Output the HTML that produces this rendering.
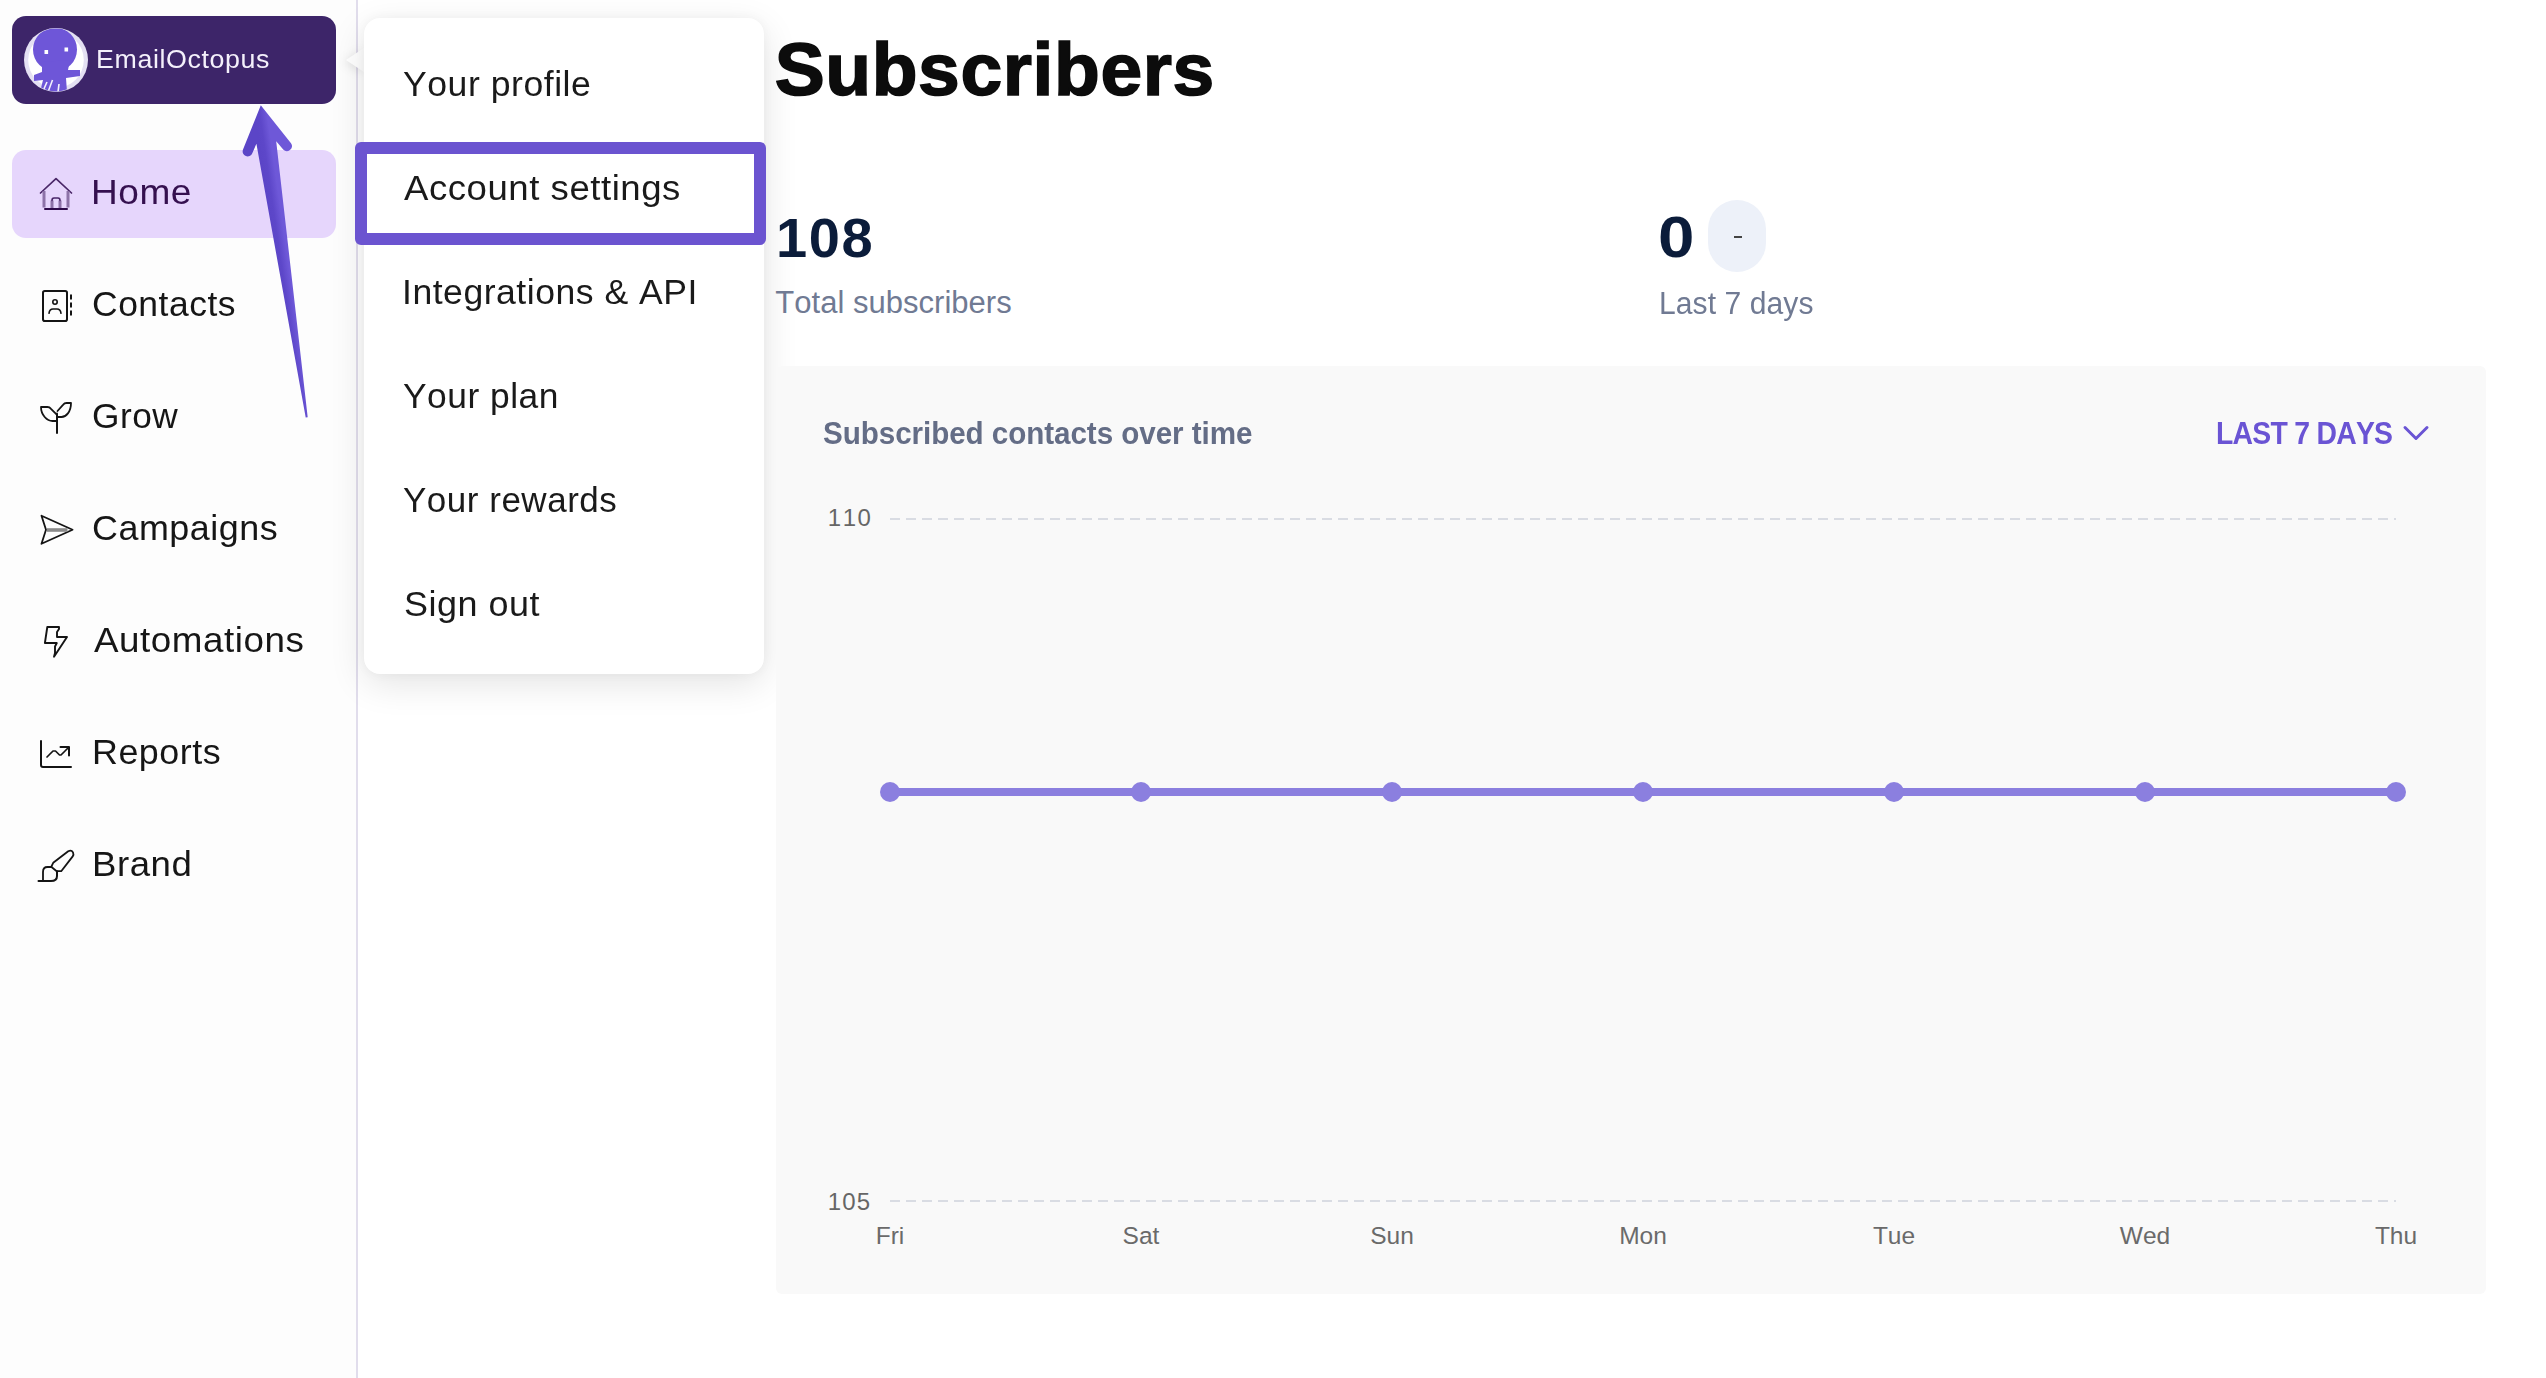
<!DOCTYPE html>
<html lang="en"><head><meta charset="utf-8"><title>EmailOctopus - Dashboard</title>
<style>
html,body{margin:0;padding:0;}
body{width:2546px;height:1378px;overflow:hidden;background:#fff;font-family:"Liberation Sans",sans-serif;}
#root{position:relative;width:2546px;height:1378px;overflow:hidden;background:#fff;}
.t{position:absolute;white-space:nowrap;display:block;font-kerning:none;transform-origin:0 0;}
svg{position:absolute;left:0;top:0;}
#sidebar{position:absolute;left:0;top:0;width:356px;height:1378px;background:#fdfdfd;}
#divider{position:absolute;left:356px;top:0;width:2px;height:1378px;background:#e1ddec;}
#brandbtn{position:absolute;left:12px;top:16px;width:324px;height:88px;border-radius:14px;background:#3d2569;}
#homebtn{position:absolute;left:12px;top:150px;width:324px;height:88px;border-radius:14px;background:#e6d6fc;}
#dd{position:absolute;left:364px;top:18px;width:400px;height:656px;border-radius:16px;background:#fff;box-shadow:0 10px 36px rgba(0,0,0,0.11),0 0 12px rgba(0,0,0,0.04);}
#ddcaret{position:absolute;left:346px;top:47.500px;width:0;height:0;border-top:12.500px solid transparent;border-bottom:12.500px solid transparent;border-right:18px solid #fff;filter:drop-shadow(-2px 2px 5px rgba(0,0,0,0.10));}
#hl{position:absolute;left:355px;top:142px;width:387px;height:79px;border:12px solid #6b54d0;border-radius:6px;}
#pill{position:absolute;left:1708px;top:200px;width:58px;height:72px;border-radius:29px;background:#edf1f9;}
#dash{position:absolute;left:1734px;top:236px;width:8px;height:2px;background:#444;}
#card{position:absolute;left:776px;top:366px;width:1710px;height:928px;border-radius:6px;background:#f9f9f9;}

</style></head>
<body>
<div id="root">
<aside>
<div id="sidebar"></div>
<div id="divider"></div>
<div id="brandbtn"></div>
<svg id="octo" width="100" height="110" viewBox="0 0 100 110">
<defs><clipPath id="oc"><circle cx="56" cy="60" r="31.500"/></clipPath></defs>
<circle cx="56" cy="60" r="32" fill="#e4e0f3"/>
<circle cx="56" cy="60" r="27.800" fill="#fff"/>
<g clip-path="url(#oc)" fill="#6e56d8">
<ellipse cx="55" cy="49.500" rx="22" ry="22"/>
<path d="M42 62 L42 72 L34 75 L34 81 L43 80 L40 92 L67 92 L66 78 L80 76 L80 70 L68 70 L70 60 Z"/>
</g>
<g clip-path="url(#oc)" stroke="#f4f2fb" stroke-width="1.600" fill="none">
<path d="M47 82 L43 91"/><path d="M52.500 80 L48 92"/><path d="M59 84 L58 92"/>
</g>
<rect x="44.500" y="50" width="3.600" height="4" fill="#fff"/>
<rect x="64.500" y="47.500" width="3.600" height="4" fill="#fff"/>
</svg>

<span class="t" style="left:96.10px;top:45.99px;font-size:26px;line-height:26px;color:#f4f0fb;letter-spacing:0.597px;transform:scaleX(1.03);">EmailOctopus</span>
<nav>
<div id="homebtn"></div>
<span class="t" style="left:91.26px;top:174.79px;font-size:34.5px;line-height:34.5px;color:#35104f;letter-spacing:0.500px;transform:scaleX(1.0733);">Home</span>
<span class="t" style="left:92.20px;top:286.79px;font-size:34.5px;line-height:34.5px;color:#161616;letter-spacing:0.500px;transform:scaleX(1.0282);">Contacts</span>
<span class="t" style="left:92.43px;top:398.79px;font-size:34.5px;line-height:34.5px;color:#161616;letter-spacing:0.499px;transform:scaleX(1.021);">Grow</span>
<span class="t" style="left:92.48px;top:510.79px;font-size:34.5px;line-height:34.5px;color:#161616;letter-spacing:0.501px;transform:scaleX(1.0398);">Campaigns</span>
<span class="t" style="left:93.93px;top:622.79px;font-size:34.5px;line-height:34.5px;color:#161616;letter-spacing:0.501px;transform:scaleX(1.0667);">Automations</span>
<span class="t" style="left:91.66px;top:734.79px;font-size:34.5px;line-height:34.5px;color:#161616;letter-spacing:0.499px;transform:scaleX(1.0391);">Reports</span>
<span class="t" style="left:91.60px;top:846.79px;font-size:34.5px;line-height:34.5px;color:#161616;letter-spacing:0.500px;transform:scaleX(1.0606);">Brand</span>
<svg id="icons" width="360" height="900" viewBox="0 0 360 900" fill="none" stroke="#141414" stroke-width="2" stroke-linecap="round" stroke-linejoin="round">
<g stroke="#4a2768" stroke-width="1.7">
<path d="M40.5 193 L56 178.6 L71.5 193"/>
<path d="M44 191 V207.5 M68 191 V207.5 M52 200.5 V208 M60 200.5 V208" stroke="#8d73a8" stroke-width="3" stroke-linecap="butt"/>
<path d="M45 209 H67" stroke="#2e0b4a" stroke-width="2"/>
<path d="M52 200.5 Q52 198 54 198 H58 Q60 198 60 200.5" stroke-width="1.6"/>
</g>
<g>
<rect x="43" y="291" width="24" height="30" rx="1.8"/>
<path d="M71 295.3 V298.8 M71 303.3 V306.8 M71 311.3 V314.8"/>
<circle cx="55" cy="302" r="2.2" stroke-width="1.6"/>
<path d="M49 313.3 Q49.5 309 53 309 H57 Q60.5 309 61 313.3" stroke-width="1.6"/>
</g>
<g>
<path d="M57 413.5 V433"/>
<path d="M57 421 H52.5 C47 421 41 415 41 407 H47.5 Q49.5 407 51 408.8 L56.5 414.3" stroke-width="1.8"/>
<path d="M57 417 H61.5 C66 417 71 412 71 403 H66.5 Q64.5 403 63 404.8 L57.5 411" stroke-width="1.8"/>
</g>
<g>
<path d="M41.5 515.7 L72.6 529.7 L41.5 543.8 L46 529.7 Z" stroke-width="1.8"/>
<path d="M47 530 H67.5" stroke="#8a8a8a" stroke-width="3.6" stroke-linecap="butt"/>
</g>
<g>
<path d="M47.3 627 H59 V629 L57 632 V637 H67 L54 656.8 L55 653 V646.5 L56.8 643 H44.9 Z" stroke-width="1.9"/>
</g>
<g>
<path d="M41 741 V765 Q41 767 43 767 H71"/>
<path d="M47 757 L53 751 H55.5 L59.5 755 H61 L68.5 747.5" stroke-width="1.7"/>
<path d="M60.5 747 H69 V755.5"/>
</g>
<g stroke-width="1.8">
<path d="M51.2 866.8 L53.2 862.8 L68.2 851.3 Q71.4 849.6 73 852.4 Q74 854.600 72.700 856.400 L61.2 871.2 H57"/>
<path d="M51.2 866.8 L57 871.500"/>
<path d="M51.2 867 H47.500 Q43 867 43 872 V881"/>
<path d="M38.500 881 H51 Q57 881 57 876 V871.500" stroke-width="2"/>
</g>
</svg>

</nav></aside>
<div role="menu">
<div id="ddcaret"></div><div id="dd"></div>
<span class="t" style="left:403.22px;top:66.87px;font-size:34.4px;line-height:34.4px;color:#1a1a1a;letter-spacing:0.499px;transform:scaleX(1.0356);">Your profile</span>
<span class="t" style="left:403.93px;top:170.87px;font-size:34.4px;line-height:34.4px;color:#1a1a1a;letter-spacing:0.501px;transform:scaleX(1.0634);">Account settings</span>
<span class="t" style="left:402.22px;top:274.87px;font-size:34.4px;line-height:34.4px;color:#1a1a1a;letter-spacing:0.500px;transform:scaleX(1.0343);">Integrations &amp; API</span>
<span class="t" style="left:403.22px;top:378.87px;font-size:34.4px;line-height:34.4px;color:#1a1a1a;letter-spacing:0.499px;transform:scaleX(1.0279);">Your plan</span>
<span class="t" style="left:403.23px;top:482.87px;font-size:34.4px;line-height:34.4px;color:#1a1a1a;letter-spacing:0.500px;transform:scaleX(1.0179);">Your rewards</span>
<span class="t" style="left:404.07px;top:586.87px;font-size:34.4px;line-height:34.4px;color:#1a1a1a;letter-spacing:0.501px;transform:scaleX(1.0452);">Sign out</span>
<div id="hl"></div>
</div>
<main>
<span class="t" style="left:774.64px;top:32.00px;font-size:75px;line-height:75px;color:#0c0c0c;letter-spacing:0.612px;font-weight:700;-webkit-text-stroke:1.6px #0c0c0c;">Subscribers</span>
<span class="t" style="left:776.07px;top:209.58px;font-size:56px;line-height:56px;color:#0b1c3a;letter-spacing:1.608px;font-weight:700;">108</span>
<span class="t" style="left:775.30px;top:287.25px;font-size:31px;line-height:31px;color:#707a93;letter-spacing:0.024px;">Total subscribers</span>
<span class="t" style="left:1658.11px;top:209.11px;font-size:57.5px;line-height:57.5px;color:#0b1c3a;font-weight:700;transform:scaleX(1.1373);">0</span>
<div id="pill"></div><div id="dash"></div>
<span class="t" style="left:1659.03px;top:287.75px;font-size:31px;line-height:31px;color:#707a93;letter-spacing:0.069px;transform:scaleX(0.97);">Last 7 days</span>
<div id="card"></div>
<span class="t" style="left:822.65px;top:417.93px;font-size:31.5px;line-height:31.5px;color:#646d86;letter-spacing:-0.067px;font-weight:700;transform:scaleX(0.94);">Subscribed contacts over time</span>
<span class="t" style="left:2216.10px;top:417.93px;font-size:31.5px;line-height:31.5px;color:#6a54d4;letter-spacing:-0.811px;font-weight:700;transform:scaleX(0.9);">LAST 7 DAYS</span>
<svg id="chart" width="2546" height="1378" viewBox="0 0 2546 1378">
<path d="M890 519 H2396 M890 1201 H2396" stroke="#d9dce3" stroke-width="2" stroke-dasharray="10 6" fill="none"/>
<path d="M890 792 H2396" stroke="#8b7fdf" stroke-width="8" fill="none"/>
<g fill="#8b7fdf">
<circle cx="890" cy="792" r="10"/><circle cx="1141" cy="792" r="10"/><circle cx="1392" cy="792" r="10"/><circle cx="1643" cy="792" r="10"/><circle cx="1894" cy="792" r="10"/><circle cx="2145" cy="792" r="10"/><circle cx="2396" cy="792" r="10"/>
</g>
<path d="M2405 427.500 L2416 438.500 L2427 427.500" stroke="#6a54d4" stroke-width="3" fill="none" stroke-linecap="round" stroke-linejoin="round"/>
</svg>

<span class="t" style="left:827.77px;top:505.68px;font-size:24px;line-height:24px;color:#666;letter-spacing:1.561px;">110</span>
<span class="t" style="left:827.77px;top:1189.68px;font-size:24px;line-height:24px;color:#666;letter-spacing:1.096px;">105</span>
<span class="t" style="left:850.00px;top:1223.86px;font-size:24.5px;line-height:24.5px;color:#6a6a6a;width:80px;text-align:center;">Fri</span>
<span class="t" style="left:1101.00px;top:1223.86px;font-size:24.5px;line-height:24.5px;color:#6a6a6a;width:80px;text-align:center;">Sat</span>
<span class="t" style="left:1352.00px;top:1223.86px;font-size:24.5px;line-height:24.5px;color:#6a6a6a;width:80px;text-align:center;">Sun</span>
<span class="t" style="left:1603.00px;top:1223.86px;font-size:24.5px;line-height:24.5px;color:#6a6a6a;width:80px;text-align:center;">Mon</span>
<span class="t" style="left:1854.00px;top:1223.86px;font-size:24.5px;line-height:24.5px;color:#6a6a6a;width:80px;text-align:center;">Tue</span>
<span class="t" style="left:2105.00px;top:1223.86px;font-size:24.5px;line-height:24.5px;color:#6a6a6a;width:80px;text-align:center;">Wed</span>
<span class="t" style="left:2356.00px;top:1223.86px;font-size:24.5px;line-height:24.5px;color:#6a6a6a;width:80px;text-align:center;">Thu</span>
</main>
<svg id="arrow" width="360" height="440" viewBox="0 0 360 440">
<defs><linearGradient id="ag" gradientUnits="userSpaceOnUse" x1="253.900" y1="106.200" x2="265.800" y2="104.500">
<stop offset="0" stop-color="#5b45c7"/><stop offset="0.400" stop-color="#5d47c9"/><stop offset="1" stop-color="#6e58d8"/></linearGradient></defs>
<path fill="url(#ag)" d="M260.800 105.200 L291 143.200 A5 5 0 0 1 283.200 149.400 L276.200 141.200 L307.700 417.300 L305.700 417.600 L256.400 143.800 L252.300 153.300 A5 5 0 0 1 243 149.600 Z"/>
</svg>

</div>
</body></html>
